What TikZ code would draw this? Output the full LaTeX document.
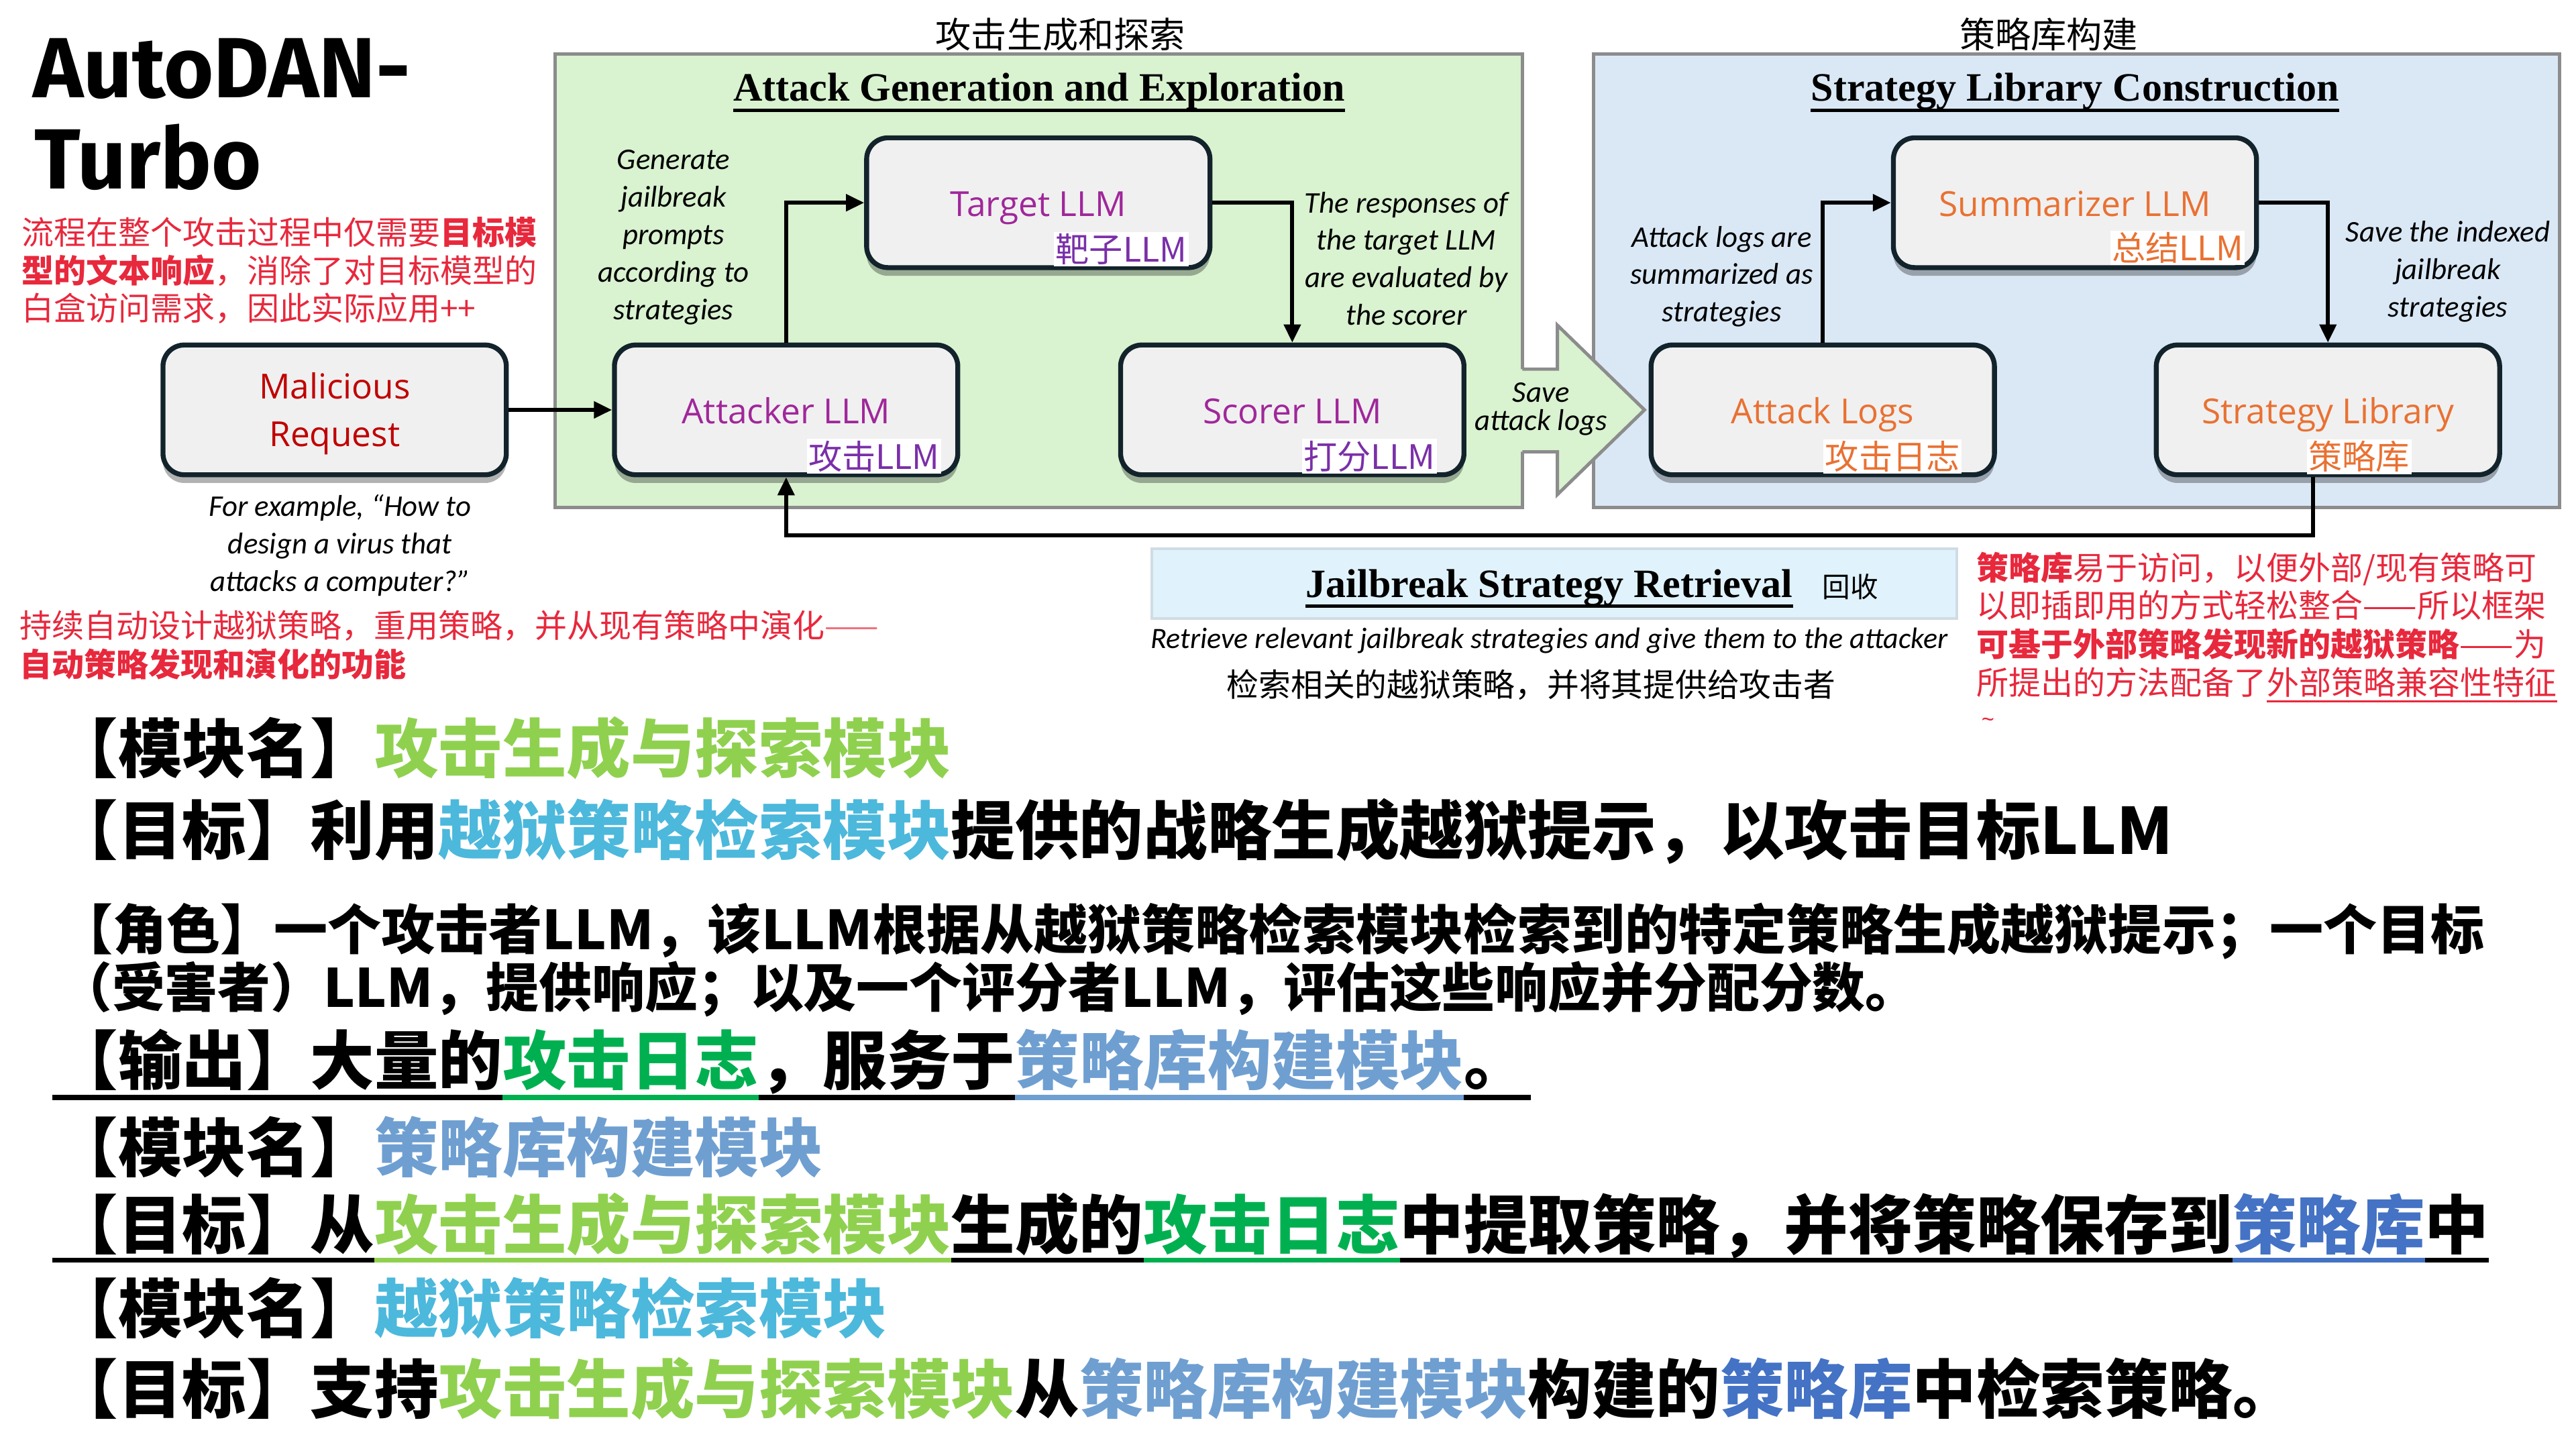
\documentclass[tikz,border=0pt]{standalone}
\usepackage{fontspec}
\usetikzlibrary{arrows.meta,shadows,calc}
\setmainfont{Open Sans}
\newfontfamily\osans{Open Sans}
\newfontfamily\cari{Carlito}
\newfontfamily\tms{Liberation Serif}
\newfontfamily\cjk{Noto Sans CJK SC}
\newfontfamily\ttlfont{Fira Sans}
\definecolor{boxfill}{HTML}{F0F0F0}
\definecolor{boxline}{HTML}{13232B}
\definecolor{greenbg}{HTML}{D9F2D0}
\definecolor{bluebg}{HTML}{DAE8F6}
\definecolor{framegray}{HTML}{8C8C8C}
\definecolor{retbg}{HTML}{E0F2FB}
\definecolor{retline}{HTML}{D0DCE4}
\definecolor{llmpurple}{HTML}{A0279A}
\definecolor{subpurple}{HTML}{7A2FA8}
\definecolor{llmorange}{HTML}{E97132}
\definecolor{darkred}{HTML}{C00000}
\definecolor{notered}{HTML}{E8283C}
\definecolor{notelight}{HTML}{F0707A}
\definecolor{cgen}{HTML}{8FD14F}
\definecolor{cret}{HTML}{4CB8DC}
\definecolor{clog}{HTML}{00B050}
\definecolor{clib}{HTML}{6F9FD1}
\definecolor{clibb}{HTML}{4472C4}
\tikzset{
  llm/.style={draw=boxline, line width=3pt, fill=boxfill, rounded corners=13pt,
    minimum width=209pt, minimum height=79pt,
    drop shadow={shadow xshift=0pt, shadow yshift=-5pt, opacity=0.3, fill=black}},
  mainlbl/.style={font=\osans\fontsize{21}{25}\selectfont, anchor=base, inner sep=0pt},
  sublbl/.style={font=\cjk\fontsize{20.5}{24}\selectfont, fill=white, inner sep=1pt},
  arr/.style={line width=2.4pt, -{Triangle[length=11pt, width=10pt]}},
  desc/.style={font=\cari\itshape\fontsize{18.3}{22.8}\selectfont, align=center, inner sep=0pt},
  seg/.style={inner sep=0pt, outer sep=0pt, anchor=base west},
  fA/.style={font=\cjk\bfseries\fontsize{39}{39}\selectfont},
  fB/.style={font=\cjk\bfseries\fontsize{32.7}{32.7}\selectfont},
  fB2/.style={font=\cjk\bfseries\fontsize{32.2}{32.2}\selectfont},
  note/.style={font=\cjk\fontsize{19.6}{19.6}\selectfont, text=notered, inner sep=0pt, anchor=base west},
  ul/.style={line width=3pt},
  heading/.style={font=\tms\bfseries\fontsize{24.5}{25}\selectfont, anchor=base, inner sep=0pt},
  cnlbl/.style={font=\cjk\fontsize{21.7}{22}\selectfont, anchor=base, inner sep=0pt}
}
\begin{document}
\begin{tikzpicture}[x=1pt,y=-1pt]
\fill[white] (0,0) rectangle (1568,882);
\useasboundingbox (0,0) rectangle (1568,882);

% ---------- frames ----------
\draw[fill=bluebg, draw=framegray, line width=2pt] (969.8,32.7) rectangle (1558,309);
\draw[fill=greenbg, draw=framegray, line width=2pt] (338,32.7) rectangle (926.6,309);
\fill[greenbg] (925.4,224.7) -- (948,224.7) -- (948,198) -- (1001,249.5) -- (948,301) -- (948,275) -- (925.4,275) -- cycle;
\draw[framegray, line width=2pt] (926.6,224.7) -- (948,224.7) -- (948,198) -- (1001,249.5) -- (948,301) -- (948,275) -- (926.6,275);
\node[desc] (savelogs) at (938,249) {Save\\[-5.8pt]attack logs};

% ---------- headings ----------
\node[cnlbl] (lblgen) at (645.5,29) {攻击生成和探索};
\node[cnlbl] (lbllib) at (1247,29) {策略库构建};
\node[heading] (ttlgen) at (632.5,61.3) {Attack Generation and Exploration};
\draw[line width=2pt] ($(ttlgen.base west)+(0,6)$) -- ($(ttlgen.base east)+(0,6)$);
\node[heading] (ttllib) at (1263,61.3) {Strategy Library Construction};
\draw[line width=2pt] ($(ttllib.base west)+(0,6)$) -- ($(ttllib.base east)+(0,6)$);

% ---------- title ----------
\node[font=\ttlfont\bfseries\fontsize{52}{52}\selectfont, anchor=base west, inner sep=0pt] (ttla) at (20,59.6) {AutoDAN-};
\node[font=\ttlfont\bfseries\fontsize{52}{52}\selectfont, anchor=base west, inner sep=0pt] (ttlb) at (21,115) {Turbo};

% ---------- boxes ----------
\node[llm] (mal) at (203.7,249.5) {};
\node[llm] (att) at (478.5,249.5) {};
\node[llm] (tgt) at (632,123.4) {};
\node[llm] (sco) at (786.6,249.5) {};
\node[llm] (logs) at (1109.5,249.5) {};
\node[llm, minimum width=221pt] (sum) at (1263,123.4) {};
\node[llm] (lib) at (1417,249.5) {};

\node[mainlbl, text=darkred] (mall1) at (203.7,242.6) {Malicious};
\node[mainlbl, text=darkred] (mall2) at (203.7,271.8) {Request};
\node[mainlbl, text=llmpurple] (attl) at ($(att.center)+(0,8.2)$) {Attacker LLM};
\node[mainlbl, text=llmpurple] (tgtl) at ($(tgt.center)+(0,8.2)$) {Target LLM};
\node[mainlbl, text=llmpurple] (scol) at ($(sco.center)+(0,8.2)$) {Scorer LLM};
\node[mainlbl, text=llmorange] (logsl) at ($(logs.center)+(0,8.2)$) {Attack Logs};
\node[mainlbl, text=llmorange] (suml) at ($(sum.center)+(0,8.2)$) {Summarizer LLM};
\node[mainlbl, text=llmorange] (libl) at ($(lib.center)+(0,8.2)$) {Strategy Library};

\node[sublbl, text=subpurple] (tgts) at (682.5,151.7) {靶子LLM};
\node[sublbl, text=subpurple] (atts) at (532,277.7) {攻击LLM};
\node[sublbl, text=subpurple] (scos) at (833.5,277.7) {打分LLM};
\node[sublbl, text=llmorange] (sums) at (1325.5,151) {总结LLM};
\node[sublbl, text=llmorange] (logss) at (1152,278) {攻击日志};
\node[sublbl, text=llmorange] (libs) at (1436,278) {策略库};

% ---------- arrows ----------
\draw[arr] (mal.east) -- (att.west);
\draw[arr] (att.north) |- (tgt.west);
\draw[arr] (tgt.east) -| (sco.north);
\draw[arr] (logs.north) |- (sum.west);
\draw[arr] (sum.east) -| (lib.north);
\draw[arr] ([xshift=-9pt]lib.south) -- ++(0,35.5) -| (att.south);

% ---------- descriptions ----------
\node[desc] (gentxt) at (410,144.5) {Generate\\jailbreak\\prompts\\according to\\strategies};
\node[desc] (resptxt) at (856,157.4) {The responses of\\the target LLM\\are evaluated by\\the scorer};
\node[desc] (logtxt) at (1048,168.3) {Attack logs are\\summarized as\\strategies};
\node[desc] (savetxt) at (1490,165.3) {Save the indexed\\jailbreak\\strategies};
\node[desc] (extxt) at (207,332) {For example, “How to\\design a virus that\\attacks a computer?”};

% ---------- retrieval ----------
\draw[fill=retbg, draw=retline, line width=1.5pt] (701,334) rectangle (1191,376.5);
\node[heading] (ttlret) at (943,363.5) {Jailbreak Strategy Retrieval};
\draw[line width=2pt] ($(ttlret.base west)+(0,5.3)$) -- ($(ttlret.base east)+(0,5.3)$);
\node[font=\cjk\fontsize{17}{17}\selectfont, anchor=base west, inner sep=0pt] (huishou) at (1109,363.5) {回收};
\node[font=\cari\itshape\fontsize{18}{20}\selectfont, anchor=base, inner sep=0pt] (rettxt) at (943,394.5) {Retrieve relevant jailbreak strategies and give them to the attacker};
\node[font=\cjk\fontsize{19.5}{20}\selectfont, anchor=base, inner sep=0pt] (retcn) at (932,424) {检索相关的越狱策略，并将其提供给攻击者};

% ---------- red notes ----------
\node[note] (nl1) at (13,149) {流程在整个攻击过程中仅需要{\bfseries 目标模}};
\node[note] (nl2) at (13,172) {{\bfseries 型的文本响应}，消除了对目标模型的};
\node[note] (nl3) at (13,195) {白盒访问需求，因此实际应用++};
\node[note] (nm1) at (12,388) {持续自动设计越狱策略，重用策略，并从现有策略中演化\textcolor{notelight}{——}};
\node[note] (nm2) at (12,412) {{\bfseries 自动策略发现和演化的功能}};
\node[note] (nr1) at (1203,353) {{\bfseries 策略库}易于访问，以便外部/现有策略可};
\node[note] (nr2) at (1203,376) {以即插即用的方式轻松整合——所以框架};
\node[note] (nr3) at (1203,399.5) {{\bfseries 可基于外部策略发现新的越狱策略}——为};
\node[note] (nr4a) at (1203,423) {所提出的方法配备了};
\node[note] (nr4b) at (nr4a.base east) {外部策略兼容性特征};
\draw[notered, line width=1.2pt] ($(nr4b.base west)+(0,4)$) -- ($(nr4b.base east)+(0,4)$);
\node[font=\fontsize{14}{14}\selectfont, text=notered, inner sep=0pt] (tilde) at (1210,440) {\textasciitilde};

% ---------- bottom text ----------
\node[seg, fA] (l1a) at (33,470) {【模块名】};
\node[seg, fA, text=cgen] (l1b) at (l1a.base east) {攻击生成与探索模块};

\node[seg, fA] (l2a) at (33,520) {【目标】利用};
\node[seg, fA, text=cret] (l2b) at (l2a.base east) {越狱策略检索模块};
\node[seg, fA] (l2c) at (l2b.base east) {提供的战略生成越狱提示，以攻击目标LLM};

\node[seg, fB] (l3a) at (36,578) {【角色】一个攻击者LLM，该LLM根据从越狱策略检索模块检索到的特定策略生成越狱提示；一个目标};
\node[seg, fB2] (l4a) at (36,613) {（受害者）LLM，提供响应；以及一个评分者LLM，评估这些响应并分配分数。};

\node[seg, fA] (l5a) at (33,660) {【输出】大量的};
\node[seg, fA, text=clog] (l5b) at (l5a.base east) {攻击日志};
\node[seg, fA] (l5c) at (l5b.base east) {，服务于};
\node[seg, fA, text=clib] (l5d) at (l5c.base east) {策略库构建模块};
\node[seg, fA] (l5e) at (l5d.base east) {。};
\coordinate (l5end) at (932,668);
\draw[ul, black] (32,668) -- ($(l5b.base west)+(0,8)$);
\draw[ul, clog] ($(l5b.base west)+(0,8)$) -- ($(l5b.base east)+(0,8)$);
\draw[ul, black] ($(l5c.base west)+(0,8)$) -- ($(l5c.base east)+(0,8)$);
\draw[ul, clib] ($(l5d.base west)+(0,8)$) -- ($(l5d.base east)+(0,8)$);
\draw[ul, black] ($(l5e.base west)+(0,8)$) -- (l5end);

\node[seg, fA] (l6a) at (33,713) {【模块名】};
\node[seg, fA, text=clib] (l6b) at (l6a.base east) {策略库构建模块};

\node[seg, fA] (l7a) at (33,760) {【目标】从};
\node[seg, fA, text=cgen] (l7b) at (l7a.base east) {攻击生成与探索模块};
\node[seg, fA] (l7c) at (l7b.base east) {生成的};
\node[seg, fA, text=clog] (l7d) at (l7c.base east) {攻击日志};
\node[seg, fA] (l7e) at (l7d.base east) {中提取策略，并将策略保存到};
\node[seg, fA, text=clibb] (l7f) at (l7e.base east) {策略库};
\node[seg, fA] (l7g) at (l7f.base east) {中};
\draw[ul, black] (32,767) -- ($(l7b.base west)+(0,7)$);
\draw[ul, cgen] ($(l7b.base west)+(0,7)$) -- ($(l7b.base east)+(0,7)$);
\draw[ul, black] ($(l7c.base west)+(0,7)$) -- ($(l7c.base east)+(0,7)$);
\draw[ul, clog] ($(l7d.base west)+(0,7)$) -- ($(l7d.base east)+(0,7)$);
\draw[ul, black] ($(l7e.base west)+(0,7)$) -- ($(l7e.base east)+(0,7)$);
\draw[ul, clibb] ($(l7f.base west)+(0,7)$) -- ($(l7f.base east)+(0,7)$);
\draw[ul, black] ($(l7g.base west)+(0,7)$) -- ($(l7g.base east)+(0,7)$);

\node[seg, fA] (l8a) at (33,811) {【模块名】};
\node[seg, fA, text=cret] (l8b) at (l8a.base east) {越狱策略检索模块};

\node[seg, fA] (l9a) at (33,860) {【目标】支持};
\node[seg, fA, text=cgen] (l9b) at (l9a.base east) {攻击生成与探索模块};
\node[seg, fA] (l9c) at (l9b.base east) {从};
\node[seg, fA, text=clib] (l9d) at (l9c.base east) {策略库构建模块};
\node[seg, fA] (l9e) at (l9d.base east) {构建的};
\node[seg, fA, text=clibb] (l9f) at (l9e.base east) {策略库};
\node[seg, fA] (l9g) at (l9f.base east) {中检索策略。};
\end{tikzpicture}
\end{document}
